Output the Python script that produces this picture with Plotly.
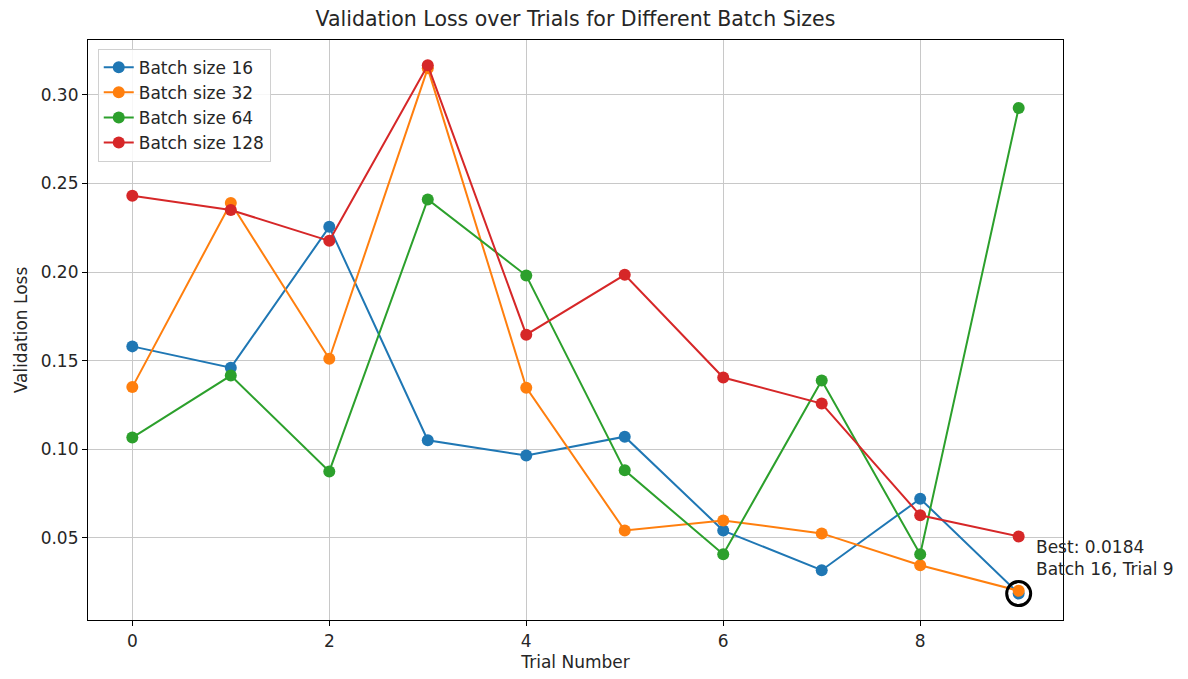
import plotly.graph_objects as go

trials = list(range(10))
series_names = ["Batch size 16", "Batch size 32", "Batch size 64", "Batch size 128"]
loss_16 = [0.158, 0.146, 0.2255, 0.105, 0.0964, 0.107, 0.054, 0.0316, 0.072, 0.0184]
loss_32 = [0.135, 0.239, 0.151, 0.315, 0.1347, 0.054, 0.0597, 0.0524, 0.0344, 0.0200]
loss_64 = [0.1065, 0.1415, 0.0874, 0.241, 0.198, 0.088, 0.0406, 0.1387, 0.0406, 0.2926]
loss_128 = [0.243, 0.235, 0.2176, 0.3168, 0.1646, 0.1984, 0.1404, 0.1257, 0.0626, 0.0507]
colors = ["#1f77b4", "#ff7f0e", "#2ca02c", "#d62728"]

best_trial = 9
best_value = 0.0184
best_text = "Best: 0.0184<br>Batch 16, Trial 9"

font_family = "DejaVu Sans, sans-serif"
txt = "#262626"

fig = go.Figure()
for name, vals, c in zip(series_names, [loss_16, loss_32, loss_64, loss_128], colors):
    fig.add_trace(go.Scatter(
        x=trials, y=vals, mode="lines+markers", name=name,
        line=dict(color=c, width=2),
        marker=dict(color=c, size=12),
    ))

fig.add_trace(go.Scatter(
    x=[best_trial], y=[best_value], mode="markers", showlegend=False,
    marker=dict(size=24, color="rgba(0,0,0,0)", line=dict(color="black", width=3)),
    hoverinfo="skip",
))

fig.add_annotation(
    x=best_trial, y=best_value, xref="x", yref="y",
    text=best_text, showarrow=False, xanchor="left", yanchor="bottom",
    align="left", xshift=15, yshift=13,
    font=dict(family=font_family, size=17, color=txt),
)

axis_common = dict(
    showgrid=True, gridcolor="#c8c8c8", gridwidth=1,
    showline=True, linecolor="black", linewidth=1.2, mirror=True,
    ticks="outside", ticklen=5, tickcolor="black",
    tickfont=dict(family=font_family, size=17, color=txt),
    zeroline=False,
)

fig.update_layout(
    width=1188, height=679,
    margin=dict(l=88, r=125, t=40, b=59),
    paper_bgcolor="white", plot_bgcolor="white",
    title=dict(text="Validation Loss over Trials for Different Batch Sizes",
               x=(88 + 1063) / 2 / 1188, xanchor="center", y=0.972, yanchor="middle",
               font=dict(family=font_family, size=20.5, color=txt)),
    xaxis=dict(axis_common, range=[-0.45, 9.45], tickvals=[0, 2, 4, 6, 8],
               title=dict(text="Trial Number", font=dict(family=font_family, size=17, color=txt), standoff=6)),
    yaxis=dict(axis_common, range=[0.0035, 0.331], tickvals=[0.05, 0.10, 0.15, 0.20, 0.25, 0.30],
               tickformat=".2f",
               title=dict(text="Validation Loss", font=dict(family=font_family, size=17, color=txt), standoff=8)),
    legend=dict(x=0.01, y=0.985, xanchor="left", yanchor="top",
                bgcolor="rgba(255,255,255,0.85)", bordercolor="#d0d0d0", borderwidth=1,
                font=dict(family=font_family, size=17, color=txt),
                tracegroupgap=2),
    showlegend=True,
)

fig.write_html("out.html")
